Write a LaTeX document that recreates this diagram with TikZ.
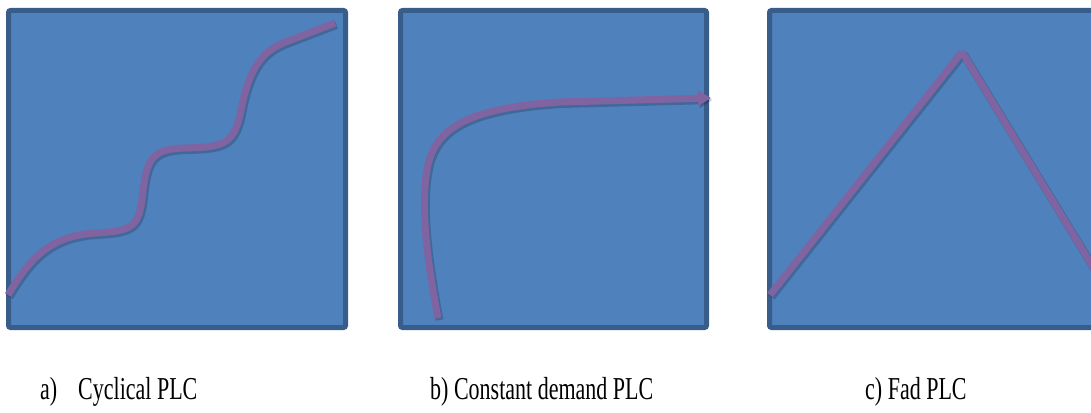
\documentclass[tikz,border=0pt]{standalone}
\usepackage{fontspec}
\setmainfont{Liberation Serif}
\usetikzlibrary{arrows.meta}
\definecolor{panelfill}{HTML}{4F81BD}
\definecolor{panelborder}{HTML}{385D8A}
\definecolor{curvecol}{HTML}{8064A2}
\newcommand{\tallt}[1]{\scalebox{1}[1.45]{#1}}
\begin{document}
\begin{tikzpicture}[x=1pt,y=-1pt,
  panel/.style={draw=panelborder,fill=panelfill,line width=5pt,rounded corners=2pt},
  curve/.style={draw=curvecol,line width=7pt},
  shade/.style={draw=black,opacity=0.18,line width=8pt},
  lab/.style={anchor=base west,inner sep=0pt,font=\fontsize{22}{26}\selectfont}]
\useasboundingbox (0,0) rectangle (1091,412);
\clip (0,0) rectangle (1091,412);
% panels
\path[panel] (8.5,10.5) rectangle (345.5,327.5);
\path[panel] (400.5,10.5) rectangle (706.5,327.5);
\path[panel] (769.5,10.5) rectangle (1110,327.5);
% curve a (cyclical)
\def\cyc{(8,295) .. controls (30,258) and (50,236) .. (95,233)
  .. controls (130,231) and (138,228) .. (142,200)
  .. controls (146,160) and (150,149) .. (185,148)
  .. controls (225,147) and (235,145) .. (242,105)
  .. controls (250,68) and (262,52) .. (283,43) -- (335,23)}
\path[shade,transform canvas={shift={(1.5pt,-2pt)}}] \cyc;
\path[curve] \cyc;
% curve b (constant demand)
\def\cons{(438,318) .. controls (426,255) and (420,200) .. (428,165)
  .. controls (436,130) and (465,108) .. (560,102) -- (711,98)}
\path[shade,transform canvas={shift={(1.5pt,-2pt)}},-{Triangle[length=13pt,width=15pt]}] \cons;
\path[curve,-{Triangle[length=13pt,width=15pt]}] \cons;
% curve c (fad)
\coordinate (c0) at (770,295);
\coordinate (c1) at (962,52);
\coordinate (c2) at (1110,295);
\draw[shade,transform canvas={shift={(1.5pt,-2pt)}}] (c0) -- (c1);
\draw[shade,transform canvas={shift={(1.5pt,-2pt)}}] (c1) -- (c2);
\draw[curve] (c0) -- (c1);
\draw[curve] (c1) -- (c2);
% labels
\node[lab] (la) at (40,399) {\tallt{a)}};
\node[lab] (lat) at (78,399) {\tallt{Cyclical PLC}};
\node[lab] (lb) at (430,399) {\tallt{b) Constant demand PLC}};
\node[lab] (lc) at (865,399) {\tallt{c) Fad PLC}};
\end{tikzpicture}
\end{document}
